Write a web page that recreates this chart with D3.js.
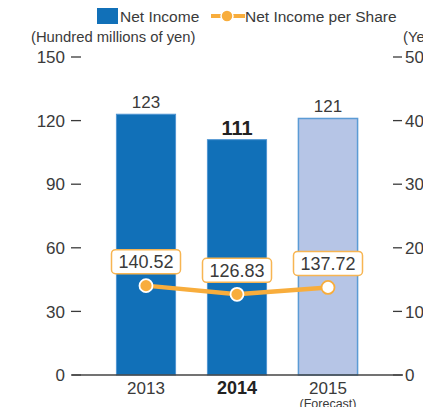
<!DOCTYPE html>
<html>
<head>
<meta charset="utf-8">
<script src="https://cdn.jsdelivr.net/npm/d3@7"></script>
<style>
  body { margin: 0; background: #fff; }
  svg { display: block; font-family: "Liberation Sans", Arial, sans-serif; }
</style>
</head>
<body>
<script>
// chart data
var years = ["2013", "2014", "2015"];
var netIncome = [123, 111, 121];
var perShare = [140.52, 126.83, 137.72];
var leftTicks = [0, 30, 60, 90, 120, 150];
var rightTicks = [0, 100, 200, 300, 400, 500];

var width = 423, height = 407;
var textColor = "#3a3a3a";
var blue = "#1170b8", lightBlue = "#b6c5e6", orange = "#f8ad3c";

var svg = d3.select("body").append("svg")
    .attr("width", width)
    .attr("height", height);

var x = d3.scaleBand()
    .domain(years)
    .range([100.5, 373.5])
    .paddingInner(0.35)
    .paddingOuter(0.175);

var y = d3.scaleLinear().domain([0, 150]).range([375, 57]);
var y2 = d3.scaleLinear().domain([0, 500]).range([375, 57]);

// left axis
var left = svg.append("g");
leftTicks.forEach(function(t) {
    left.append("line")
        .attr("x1", 71).attr("x2", 81)
        .attr("y1", y(t)).attr("y2", y(t))
        .attr("stroke", textColor).attr("stroke-width", 1.3);
    left.append("text")
        .attr("x", 65).attr("y", y(t))
        .attr("dy", "0.36em")
        .attr("text-anchor", "end")
        .attr("font-size", 17)
        .attr("fill", textColor)
        .text(t);
});

// right axis (labels run off the edge like the original)
var right = svg.append("g");
rightTicks.forEach(function(t) {
    right.append("line")
        .attr("x1", 393).attr("x2", 402)
        .attr("y1", y2(t)).attr("y2", y2(t))
        .attr("stroke", textColor).attr("stroke-width", 1.3);
    right.append("text")
        .attr("x", 405).attr("y", y2(t))
        .attr("dy", "0.36em")
        .attr("font-size", 17)
        .attr("fill", textColor)
        .text(t);
});

svg.append("text")
    .attr("x", 31).attr("y", 42)
    .attr("font-size", 14.8)
    .attr("fill", textColor)
    .text("(Hundred millions of yen)");
svg.append("text")
    .attr("x", 403).attr("y", 42)
    .attr("font-size", 14.8)
    .attr("fill", textColor)
    .text("(Yen)");

// bars
svg.selectAll(".bar")
    .data(years)
    .enter()
    .append("rect")
    .attr("class", "bar")
    .attr("x", function(d) { return x(d); })
    .attr("width", x.bandwidth())
    .attr("y", function(d, i) { return y(netIncome[i]); })
    .attr("height", function(d, i) { return y(0) - y(netIncome[i]); })
    .attr("fill", function(d, i) { return i == 2 ? lightBlue : blue; })
    .attr("stroke", function(d, i) { return i == 2 ? "#5b9bd5" : "#4f95d2"; })
    .attr("stroke-width", function(d, i) { return i == 2 ? 1.5 : 1; });

// bar value labels
svg.selectAll(".val")
    .data(years)
    .enter()
    .append("text")
    .attr("x", function(d) { return x(d) + x.bandwidth() / 2; })
    .attr("y", function(d, i) { return y(netIncome[i]) - (i == 1 ? 5 : 6); })
    .attr("text-anchor", "middle")
    .attr("font-size", function(d, i) { return i == 1 ? 20 : 17; })
    .attr("font-weight", function(d, i) { return i == 1 ? "bold" : "normal"; })
    .attr("fill", function(d, i) { return i == 1 ? "#222" : textColor; })
    .text(function(d, i) { return netIncome[i]; });

// baseline
svg.append("line")
    .attr("x1", 72).attr("x2", 403)
    .attr("y1", y(0)).attr("y2", y(0))
    .attr("stroke", "#444").attr("stroke-width", 1.5);

// x labels
svg.selectAll(".xl")
    .data(years)
    .enter()
    .append("text")
    .attr("x", function(d) { return x(d) + x.bandwidth() / 2; })
    .attr("y", 394)
    .attr("text-anchor", "middle")
    .attr("font-size", function(d, i) { return i == 1 ? 18 : 17; })
    .attr("font-weight", function(d, i) { return i == 1 ? "bold" : "normal"; })
    .attr("fill", function(d, i) { return i == 1 ? "#222" : textColor; })
    .text(function(d) { return d; });
svg.append("text")
    .attr("x", x("2015") + x.bandwidth() / 2)
    .attr("y", 408)
    .attr("text-anchor", "middle")
    .attr("font-size", 12.5)
    .attr("fill", textColor)
    .text("(Forecast)");

// per share line
var cx = function(i) { return x(years[i]) + x.bandwidth() / 2; };
var line = d3.line()
    .x(function(d, i) { return cx(i); })
    .y(function(d) { return y2(d); });

svg.append("path")
    .datum(perShare)
    .attr("d", line)
    .attr("fill", "none")
    .attr("stroke", orange)
    .attr("stroke-width", 4.5);

svg.selectAll(".pt")
    .data(perShare)
    .enter()
    .append("circle")
    .attr("cx", function(d, i) { return cx(i); })
    .attr("cy", function(d) { return y2(d); })
    .attr("r", 6.5)
    .attr("fill", function(d, i) { return i == 2 ? "#fff" : orange; })
    .attr("stroke", function(d, i) { return i == 2 ? orange : "#fff"; })
    .attr("stroke-width", 1.8);

// boxed labels
var boxes = svg.selectAll(".box")
    .data(perShare)
    .enter()
    .append("g")
    .attr("transform", function(d, i) {
        return "translate(" + cx(i) + "," + (y2(d) - 12) + ")";
    });
boxes.append("rect")
    .attr("x", -34.5).attr("y", -24)
    .attr("width", 69).attr("height", 24)
    .attr("rx", 4)
    .attr("fill", "#fff")
    .attr("stroke", "#f7b552")
    .attr("stroke-width", 1.5);
boxes.append("text")
    .attr("y", -5.5)
    .attr("text-anchor", "middle")
    .attr("font-size", 18)
    .attr("fill", textColor)
    .text(function(d) { return d.toFixed(2); });

// legend
svg.append("rect")
    .attr("x", 97).attr("y", 8)
    .attr("width", 21).attr("height", 16)
    .attr("fill", blue);
svg.append("text")
    .attr("x", 120).attr("y", 21.5)
    .attr("font-size", 15.5)
    .attr("fill", textColor)
    .text("Net Income");
svg.append("line")
    .attr("x1", 211).attr("x2", 245)
    .attr("y1", 16).attr("y2", 16)
    .attr("stroke", orange).attr("stroke-width", 4);
svg.append("circle")
    .attr("cx", 227).attr("cy", 16).attr("r", 6)
    .attr("fill", orange)
    .attr("stroke", "#fff").attr("stroke-width", 1.5);
svg.append("text")
    .attr("x", 245).attr("y", 21.5)
    .attr("font-size", 15.5)
    .attr("fill", textColor)
    .text("Net Income per Share");
</script>
</body>
</html>
